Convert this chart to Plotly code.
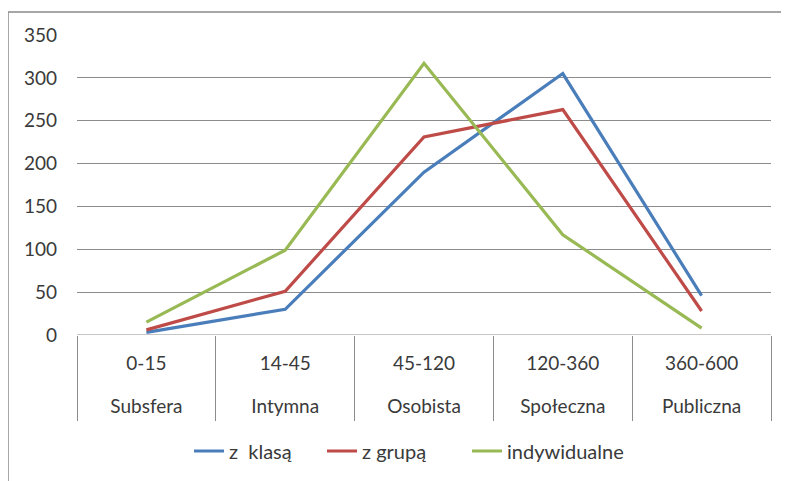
import plotly.graph_objects as go

ranges = ["0-15", "14-45", "45-120", "120-360", "360-600"]
names = ["Subsfera", "Intymna", "Osobista", "Społeczna", "Publiczna"]
z_klasa = [3, 30, 190, 305, 46]
z_grupa = [6, 51, 231, 263, 28]
indywidualne = [15, 99, 317, 117, 8]
y_ticks = [0, 50, 100, 150, 200, 250, 300, 350]

series = [
    ("z  klasą", z_klasa, "#4A7EBB"),
    ("z grupą", z_grupa, "#BE4B48"),
    ("indywidualne", indywidualne, "#98B954"),
]

OFF = 8  # page body margin offset
W, H = 789 - OFF, 481 - OFF
PL, PR, PT, PB = 77, 771, 35, 336  # target plot box in page pixels
L, T = PL - OFF, PT - OFF
R = OFF + W - PR
B = OFF + H - PB
pw, ph = PR - PL, PB - PT

FONT = "Lato"
FS = 19
TXT = "#3a3a3a"
GRID = "#8c8c8c"


def px(x):
    return (x - PL) / pw


def py(y):
    return (PB - y) / ph


legend_ids = ["legend", "legend2", "legend3"]
legend_left = [189, 322, 467]

idx = list(range(len(ranges)))
fig = go.Figure()
for (name, vals, col), lg in zip(series, legend_ids):
    fig.add_trace(go.Scatter(x=idx, y=vals, name=name, mode="lines", legend=lg,
                             line=dict(color=col, width=3.2), xaxis="x", yaxis="y"))
for ax in ("x2", "x3"):
    fig.add_trace(go.Scatter(x=idx, y=[None] * len(idx), xaxis=ax, yaxis="y",
                             showlegend=False, hoverinfo="skip", mode="lines"))

xr = [-0.5, len(ranges) - 0.5]
bounds = [i - 0.5 for i in range(len(ranges) + 1)]

legends = {}
for lg, lx in zip(legend_ids, legend_left):
    legends[lg] = dict(orientation="h", x=px(lx), xanchor="left",
                       y=py(451), yanchor="middle",
                       font=dict(family=FONT, size=20, color=TXT),
                       bgcolor="rgba(0,0,0,0)")

fig.update_layout(
    width=W, height=H,
    margin=dict(l=L, r=R, t=T, b=B),
    paper_bgcolor="white", plot_bgcolor="white",
    font=dict(family=FONT, size=FS, color=TXT),
    showlegend=True,
    **legends,
    xaxis=dict(range=xr, tickmode="array", tickvals=bounds, ticktext=[""] * len(bounds),
               ticks="outside", ticklen=85, tickwidth=1, tickcolor=GRID,
               showticklabels=False, showgrid=False, zeroline=False,
               showline=False, fixedrange=True),
    xaxis2=dict(range=xr, overlaying="x", anchor="y", side="bottom",
                tickmode="array", tickvals=idx, ticktext=ranges, ticks="",
                ticklabelstandoff=15, showgrid=False, zeroline=False, showline=False,
                tickfont=dict(family=FONT, size=FS, color=TXT)),
    xaxis3=dict(range=xr, overlaying="x", anchor="y", side="bottom",
                tickmode="array", tickvals=idx, ticktext=names, ticks="",
                ticklabelstandoff=58, showgrid=False, zeroline=False, showline=False,
                tickfont=dict(family=FONT, size=FS, color=TXT)),
    yaxis=dict(range=[0, 350], tickmode="array", tickvals=y_ticks,
               showgrid=True, gridcolor=GRID, gridwidth=1, zeroline=False,
               showline=False, ticks="", ticklabelstandoff=19,
               tickfont=dict(family=FONT, size=FS, color=TXT)),
    shapes=[
        dict(type="line", xref="paper", yref="paper",
             x0=px(8), x1=px(800), y0=py(12), y1=py(12),
             line=dict(color="#8a8a8a", width=1.5)),
        dict(type="line", xref="paper", yref="paper",
             x0=px(8), x1=px(8), y0=py(12), y1=py(490),
             line=dict(color="#8a8a8a", width=1.5)),
        dict(type="line", xref="paper", yref="y",
             x0=0, x1=1, y0=0, y1=0, layer="below",
             line=dict(color=GRID, width=1)),
    ],
)

fig.write_html("out.html")
